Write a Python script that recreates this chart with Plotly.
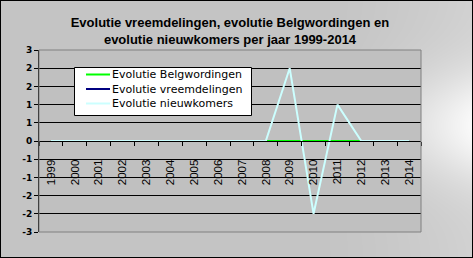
import zlib, struct, base64
import numpy as np
import plotly.graph_objects as go

# ---- data ----
years = [str(y) for y in range(1999, 2015)]
belgwordingen = [0, 0, 0, 0, 0, 0, 0, 0, 0, 0, 0, 0, 0, 0, 0, 0]
vreemdelingen = [0, 0, 0, 0, 0, 0, 0, 0, 0, 0, 0, 0, 0, 0, 0, 0]
nieuwkomers = [0, 0, 0, 0, 0, 0, 0, 0, 0, 0, 2, -2, 1, 0, 0, 0]
y_tickvals = [-2.5, -2, -1.5, -1, -0.5, 0, 0.5, 1, 1.5, 2, 2.5]
y_ticktext = ["-3", "-2", "-2", "-1", "-1", "0", "1", "1", "2", "2", "3"]
title_text = "Evolutie vreemdelingen, evolutie Belgwordingen en<br>evolutie nieuwkomers per jaar 1999-2014"
legend_names = ["Evolutie Belgwordingen", "Evolutie vreemdelingen", "Evolutie nieuwkomers"]
legend_colors = ["#00ff00", "#000080", "#ccffff"]

# ---- layout geometry (pixels) ----
W, H = 473, 258
L, R, T, B = 39, 52, 50, 26
PW, PH = W - L - R, H - T - B


def px(x):
    return (x - L) / PW


def py(y):
    return (H - B - y) / PH


# ---- background gradient image ----
def make_bg():
    xs = np.arange(W)[None, :]
    ys = np.arange(H)[:, None]
    sx = np.clip((xs - 300) / 172.0, 0, 1) ** 1.5
    gy = 0.25 + 0.75 * np.exp(-((ys - 125) / 55.0) ** 2)
    f = sx * gy
    v = (196 + (250 - 196) * f).astype(np.uint8)
    img = np.repeat(v[:, :, None], 3, axis=2)
    img[0, :, :] = 0
    img[-1, :, :] = 0
    img[:, 0, :] = 0
    img[:, -1, :] = 0
    raw = b"".join(b"\x00" + img[r].tobytes() for r in range(H))

    def chunk(t, d):
        c = struct.pack(">I", len(d)) + t + d
        return c + struct.pack(">I", zlib.crc32(t + d) & 0xFFFFFFFF)

    png = (b"\x89PNG\r\n\x1a\n"
           + chunk(b"IHDR", struct.pack(">IIBBBBB", W, H, 8, 2, 0, 0, 0))
           + chunk(b"IDAT", zlib.compress(raw))
           + chunk(b"IEND", b""))
    return "data:image/png;base64," + base64.b64encode(png).decode()


fig = go.Figure()
fig.add_trace(go.Scatter(x=years, y=vreemdelingen, mode="lines", name=legend_names[1],
                         line=dict(color=legend_colors[1], width=2)))
fig.add_trace(go.Scatter(x=years, y=belgwordingen, mode="lines", name=legend_names[0],
                         line=dict(color=legend_colors[0], width=2)))
fig.add_trace(go.Scatter(x=years, y=nieuwkomers, mode="lines", name=legend_names[2],
                         line=dict(color=legend_colors[2], width=2)))

shapes = [
    dict(type="rect", xref="paper", yref="paper", x0=0, x1=1, y0=0, y1=1,
         fillcolor="#c0c0c0", line=dict(width=0), layer="below"),
    dict(type="rect", xref="paper", yref="paper", x0=0, x1=1, y0=0, y1=1,
         fillcolor="rgba(0,0,0,0)", line=dict(color="#808080", width=1), layer="above"),
    # legend box
    dict(type="rect", xref="paper", yref="paper", x0=px(74.5), x1=px(251.5), y0=py(115.5), y1=py(67.5),
         fillcolor="white", line=dict(color="black", width=1), layer="above"),
]
annotations = []
row_y = [74.5, 89, 103.5]
for name, color, ry in zip(legend_names, legend_colors, row_y):
    shapes.append(dict(type="line", xref="paper", yref="paper", x0=px(86), x1=px(110),
                       y0=py(ry), y1=py(ry), line=dict(color=color, width=2), layer="above"))
    annotations.append(dict(text=name, xref="paper", yref="paper", x=px(110), y=py(ry),
                            xanchor="left", yanchor="middle", showarrow=False,
                            font=dict(size=11, family="DejaVu Sans", color="black")))

fig.update_layout(
    width=W, height=H,
    margin=dict(l=L, r=R, t=T, b=B, autoexpand=False),
    paper_bgcolor="#c4c4c4",
    plot_bgcolor="rgba(0,0,0,0)",
    font=dict(family="Liberation Sans, Arial", color="black"),
    title=dict(text=title_text, x=0.5, xref="paper", xanchor="center",
               y=1 - 27 / H, yanchor="top",
               font=dict(size=13, weight="bold", family="Liberation Sans, Arial")),
    showlegend=False,
    images=[dict(source=make_bg(), xref="paper", yref="paper",
                 x=-L / PW, y=(H - B) / PH, sizex=W / PW, sizey=H / PH,
                 xanchor="left", yanchor="top", sizing="stretch", layer="below")],
    shapes=shapes,
    annotations=annotations,
)

fig.update_xaxes(type="category", anchor="free", position=0.5,
                 showline=True, linecolor="black", linewidth=1,
                 ticks="outside", tickson="boundaries", ticklen=4, tickcolor="black",
                 tickangle=-90, tickfont=dict(size=11.5), showgrid=False,
                 ticklabelstandoff=13, range=[-0.5, 15.5], fixedrange=True)
fig.update_yaxes(range=[-2.5, 2.5], tickvals=y_tickvals, ticktext=y_ticktext,
                 showline=True, linecolor="black", linewidth=1,
                 ticks="outside", ticklen=4, tickcolor="black",
                 showgrid=True, gridcolor="black", gridwidth=1, zeroline=False,
                 tickfont=dict(size=9, weight="bold", family="DejaVu Sans"), fixedrange=True)

fig.write_html("out.html", config={"displayModeBar": False},
               post_script="document.body.style.margin='0';document.body.style.overflow='hidden';")
